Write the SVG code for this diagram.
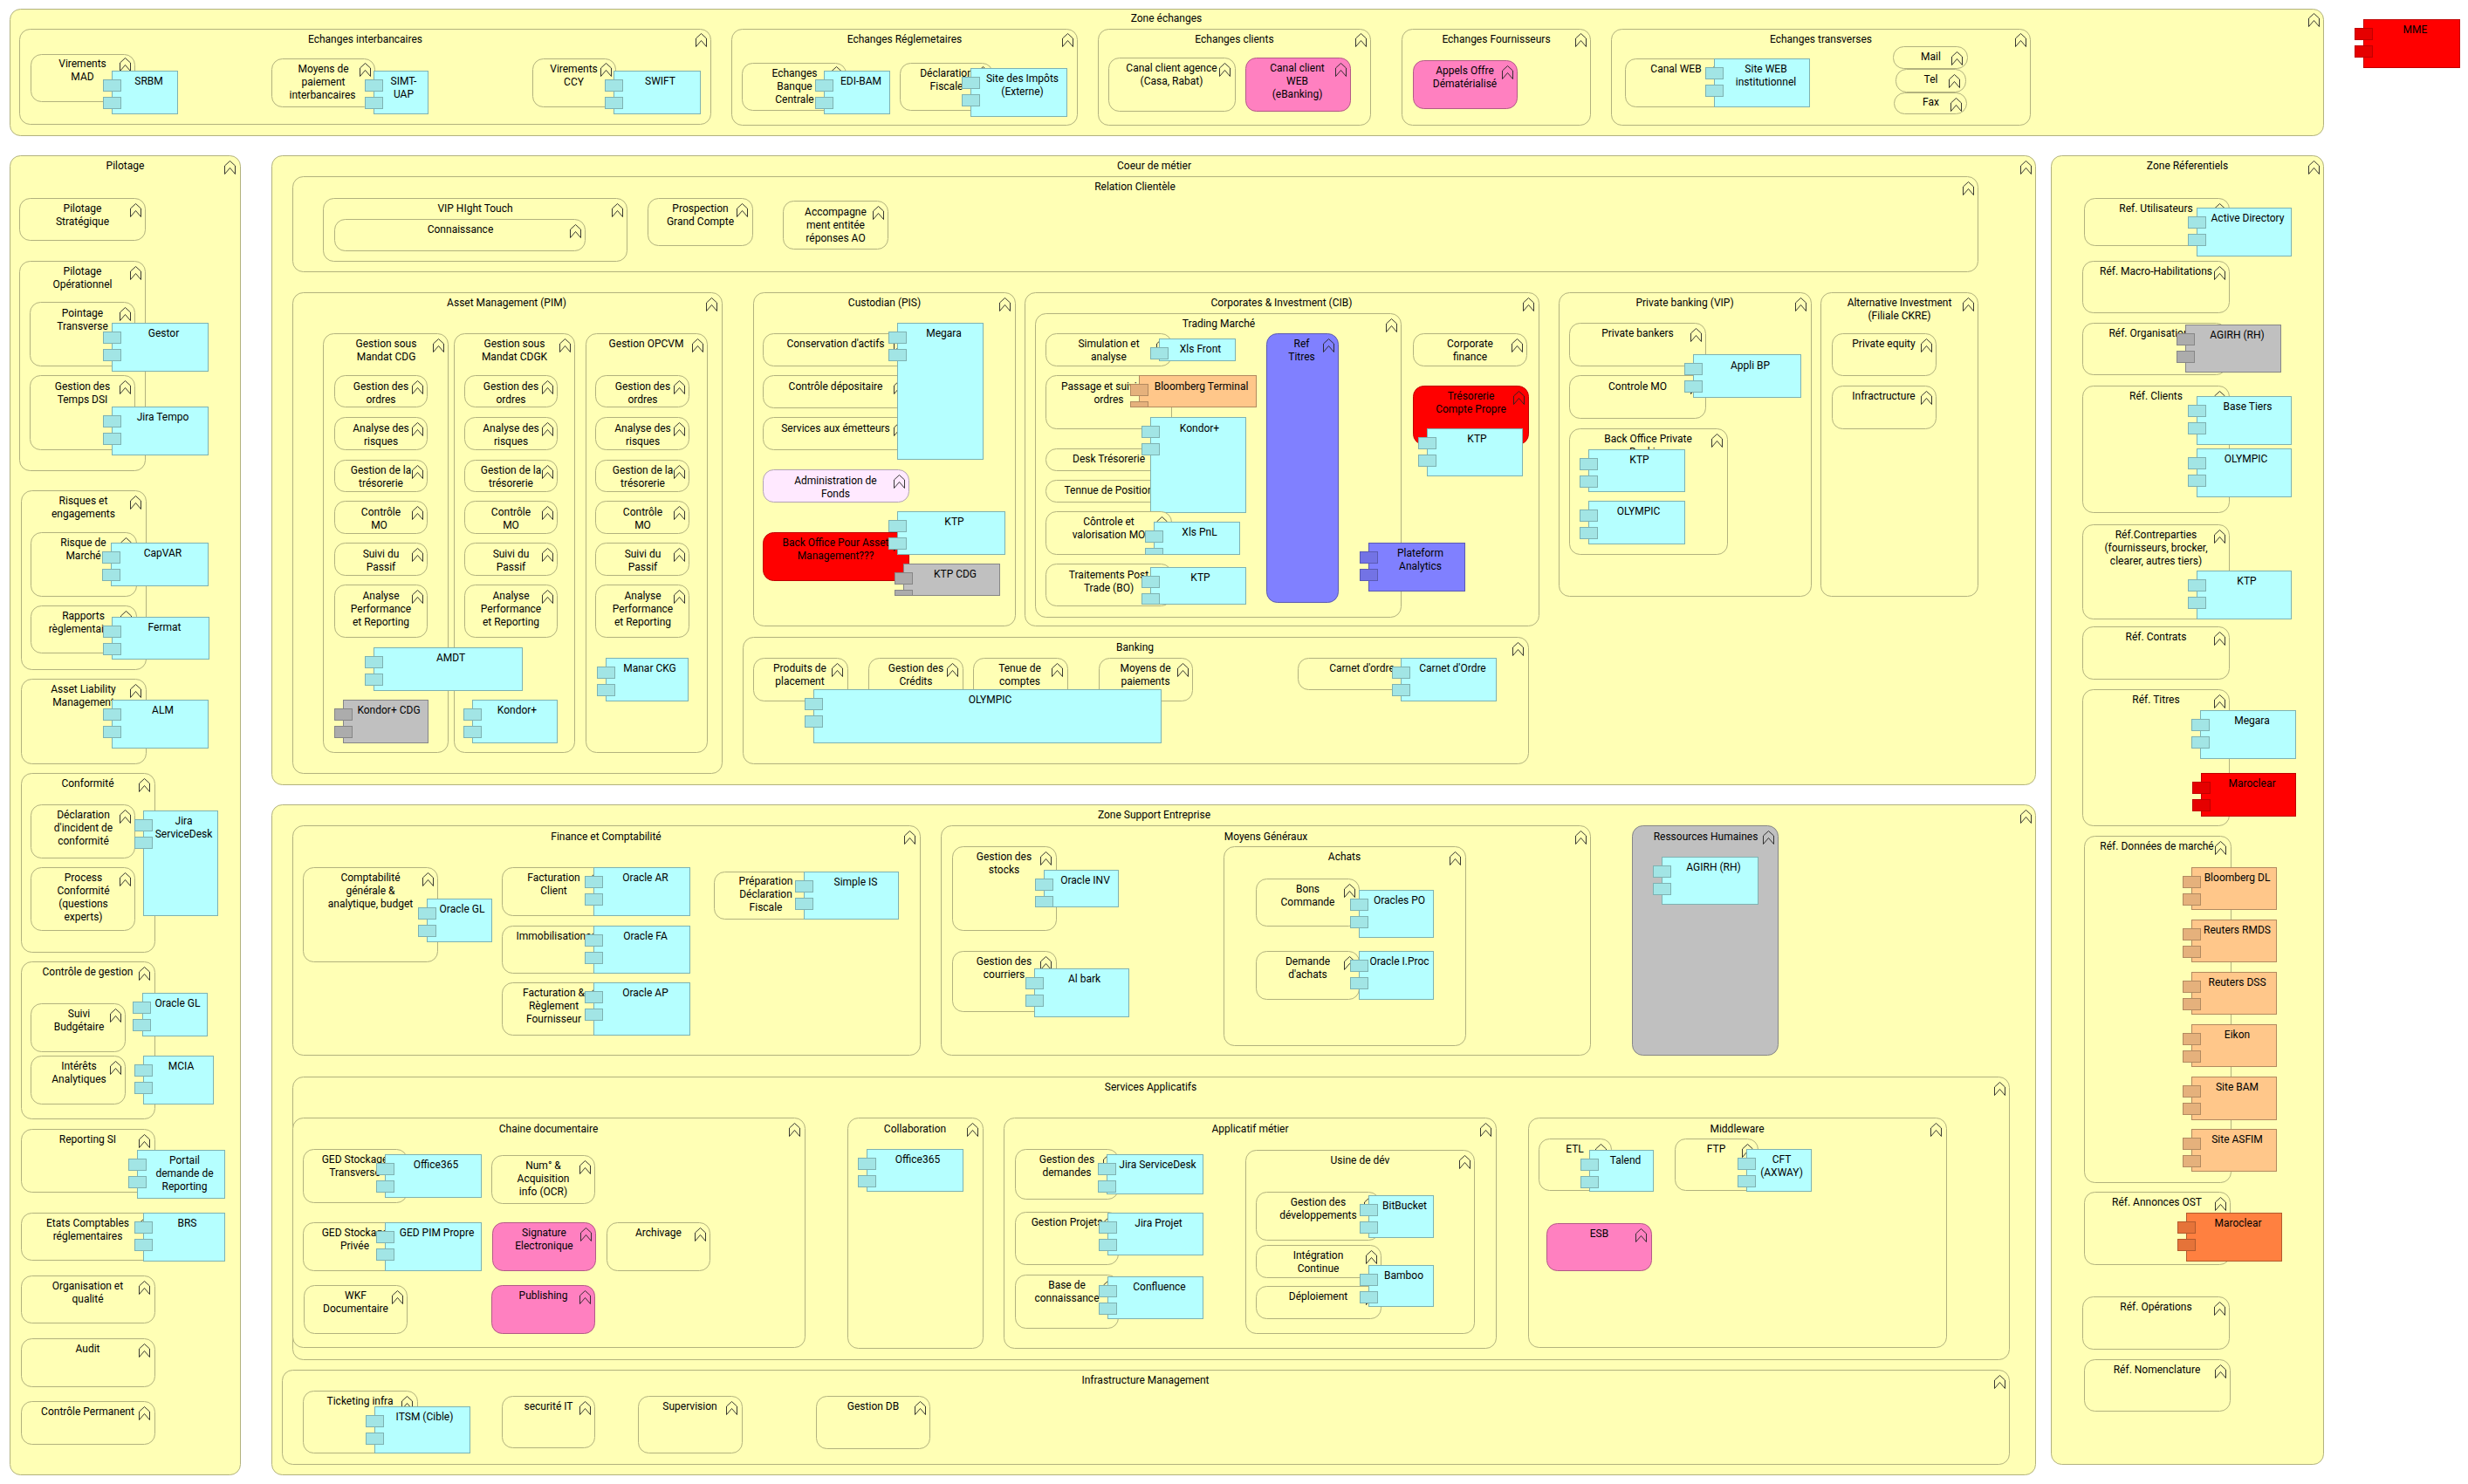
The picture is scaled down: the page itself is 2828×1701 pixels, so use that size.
<svg xmlns="http://www.w3.org/2000/svg" width="2828" height="1701" viewBox="0 0 2828 1701">
<style>
text{font-family:"Roboto","Liberation Sans",sans-serif;font-size:12px;text-anchor:middle;fill:#000;transform:translateY(-1px)}
.b{fill:#ffffb5;stroke:#b2b27e;stroke-width:1;rx:12px;ry:12px}
.pk{fill:#ff80c0;stroke:#b25a86}
.rd{fill:#f00;stroke:#c00000}
.gy{fill:#c0c0c0;stroke:#868686}
.pu{fill:#8080ff;stroke:#5a5ab2}
.li{fill:#ffe9ff;stroke:#b2a3b2}
.k>*{fill:#a2e5e5;stroke:#7eb2b2}.k>rect:first-child{fill:#b5ffff}
.o>*{fill:#e5b17c;stroke:#b28a60}.o>rect:first-child{fill:#ffc78a}
.g>*{fill:#acacac;stroke:#868686}.g>rect:first-child{fill:#c0c0c0}
.r>*{fill:#e50000;stroke:#c00000}.r>rect:first-child{fill:#f00}
.p>*{fill:#7373e5;stroke:#5a5ab2}.p>rect:first-child{fill:#8080ff}
.d>*{fill:#e57339;stroke:#b25a2d}.d>rect:first-child{fill:#ff8040}
.c>text{fill:#000;stroke:none}
.ic{fill:none;stroke:#222;stroke-width:.9}
</style>
<defs>
<path id="i" class="ic" d="M0 5.500L6 0L12 5.500V15L6 8L0 15Z"/>
<rect id="t" width="20" height="13"/>
</defs>
<g transform="translate(.5 .5)">
<g id="connectors"/>
<g id="zone-echanges"><rect class="b" x="11" y="10" width="2651" height="145"/><use href="#i" x="2645" y="15"/><text x="1336" y="25">Zone échanges</text></g>
<g id="echanges-interbancaires"><rect class="b" x="22" y="33" width="792" height="109"/><use href="#i" x="797" y="38"/><text x="418" y="49">Echanges interbancaires</text></g>
<g id="virements-mad"><rect class="b" x="35" y="62" width="119" height="54"/><use href="#i" x="137" y="66"/><text x="94" y="77">Virements<tspan x="94" dy="15">MAD</tspan></text></g>
<g id="srbm" class="c k"><rect x="128" y="81" width="75" height="49"/><use href="#t" x="118" y="91"/><use href="#t" x="118" y="111"/><text x="170" y="97">SRBM</text></g>
<g id="moyens-paiement"><rect class="b" x="311" y="67" width="118" height="55"/><use href="#i" x="412" y="72"/><text x="370" y="83">Moyens de<tspan x="370" dy="15">paiement</tspan><tspan x="369" dy="15">interbancaires</tspan></text></g>
<g id="simt-uap" class="c k"><rect x="428" y="81" width="62" height="49"/><use href="#t" x="418" y="91"/><use href="#t" x="418" y="111"/><text x="462" y="97">SIMT-<tspan x="462" dy="15">UAP</tspan></text></g>
<g id="virements-ccy"><rect class="b" x="610" y="67" width="95" height="55"/><use href="#i" x="688" y="72"/><text x="657" y="83">Virements<tspan x="657" dy="15">CCY</tspan></text></g>
<g id="swift" class="c k"><rect x="703" y="81" width="99" height="49"/><use href="#t" x="693" y="91"/><use href="#t" x="693" y="111"/><text x="756" y="97">SWIFT</text></g>
<g id="echanges-reglementaires"><rect class="b" x="838" y="33" width="396" height="110"/><use href="#i" x="1217" y="38"/><text x="1036" y="49">Echanges Réglemetaires</text></g>
<g id="echanges-banque"><rect class="b" x="850" y="72" width="119" height="54"/><use href="#i" x="952" y="76"/><text x="910" y="88">Echanges<tspan x="910" dy="15">Banque</tspan><tspan x="910" dy="15">Centrale</tspan></text></g>
<g id="edi-bam" class="c k"><rect x="944" y="81" width="75" height="49"/><use href="#t" x="934" y="91"/><use href="#t" x="934" y="111"/><text x="986" y="97">EDI-BAM</text></g>
<g id="declaration-fiscale"><rect class="b" x="1031" y="72" width="106" height="54"/><use href="#i" x="1120" y="76"/><text x="1084" y="88">Déclaration<tspan x="1084" dy="15">Fiscale</tspan></text></g>
<g id="site-impots" class="c k"><rect x="1112" y="78" width="110" height="55"/><use href="#t" x="1102" y="88"/><use href="#t" x="1102" y="108"/><text x="1171" y="94">Site des Impôts<tspan x="1171" dy="15">(Externe)</tspan></text></g>
<g id="echanges-clients"><rect class="b" x="1258" y="33" width="312" height="110"/><use href="#i" x="1553" y="38"/><text x="1414" y="49">Echanges clients</text></g>
<g id="canal-agence"><rect class="b" x="1270" y="66" width="145" height="61"/><use href="#i" x="1397" y="72"/><text x="1342" y="82">Canal client agence<tspan x="1342" dy="15">(Casa, Rabat)</tspan></text></g>
<g id="canal-web-client"><rect class="b pk" x="1427" y="66" width="120" height="61"/><use href="#i" x="1530" y="72"/><text x="1486" y="82">Canal client<tspan x="1486" dy="15">WEB</tspan><tspan x="1486" dy="15">(eBanking)</tspan></text></g>
<g id="echanges-fournisseurs"><rect class="b" x="1606" y="33" width="216" height="110"/><use href="#i" x="1805" y="38"/><text x="1714" y="49">Echanges Fournisseurs</text></g>
<g id="appels-offre"><rect class="b pk" x="1619" y="69" width="119" height="55"/><use href="#i" x="1721" y="75"/><text x="1678" y="85">Appels Offre<tspan x="1678" dy="15">Dématérialisé</tspan></text></g>
<g id="echanges-transverses"><rect class="b" x="1846" y="33" width="480" height="110"/><use href="#i" x="2309" y="38"/><text x="2086" y="49">Echanges transverses</text></g>
<g id="canal-web"><rect class="b" x="1862" y="67" width="117" height="55"/><use href="#i" x="1962" y="72"/><text x="1920" y="83">Canal WEB</text></g>
<g id="site-web" class="c k"><rect x="1964" y="67" width="109" height="55"/><use href="#t" x="1954" y="77"/><use href="#t" x="1954" y="97"/><text x="2023" y="83">Site WEB<tspan x="2023" dy="15">institutionnel</tspan></text></g>
<g id="mail"><rect class="b" x="2169" y="53" width="85" height="25"/><use href="#i" x="2236" y="59"/><text x="2212" y="69">Mail</text></g>
<g id="tel"><rect class="b" x="2172" y="79" width="80" height="26"/><use href="#i" x="2233" y="85"/><text x="2212" y="95">Tel</text></g>
<g id="fax"><rect class="b" x="2170" y="106" width="83" height="24"/><use href="#i" x="2235" y="112"/><text x="2212" y="121">Fax</text></g>
<g id="mme" class="c r"><rect x="2708" y="22" width="110" height="55"/><use href="#t" x="2698" y="32"/><use href="#t" x="2698" y="52"/><text x="2767" y="38">MME</text></g>

<g id="pilotage"><rect class="b" x="11" y="178" width="264" height="1512"/><use href="#i" x="257" y="184"/><text x="143" y="194">Pilotage</text></g>
<g id="pilotage-strategique"><rect class="b" x="22" y="227" width="144" height="48"/><use href="#i" x="149" y="233"/><text x="94" y="243">Pilotage<tspan x="94" dy="15">Stratégique</tspan></text></g>
<g id="pilotage-operationnel"><rect class="b" x="22" y="299" width="144" height="240"/><use href="#i" x="149" y="305"/><text x="94" y="315">Pilotage<tspan x="94" dy="15">Opérationnel</tspan></text></g>
<g id="pointage-transverse"><rect class="b" x="34" y="346" width="120" height="73"/><use href="#i" x="137" y="352"/><text x="94" y="363">Pointage<tspan x="94" dy="15">Transverse</tspan></text></g>
<g id="gestor" class="c k"><rect x="128" y="370" width="110" height="55"/><use href="#t" x="118" y="380"/><use href="#t" x="118" y="400"/><text x="187" y="386">Gestor</text></g>
<g id="gestion-temps"><rect class="b" x="34" y="430" width="120" height="85"/><use href="#i" x="137" y="436"/><text x="94" y="447">Gestion des<tspan x="94" dy="15">Temps DSI</tspan></text></g>
<g id="jira-tempo" class="c k"><rect x="128" y="466" width="110" height="55"/><use href="#t" x="118" y="476"/><use href="#t" x="118" y="496"/><text x="186" y="482">Jira Tempo</text></g>
<g id="risques"><rect class="b" x="24" y="562" width="143" height="205"/><use href="#i" x="149" y="568"/><text x="95" y="578">Risques et<tspan x="95" dy="15">engagements</tspan></text></g>
<g id="risque-marche"><rect class="b" x="35" y="610" width="121" height="73"/><use href="#i" x="138" y="616"/><text x="95" y="626">Risque de<tspan x="95" dy="15">Marché</tspan></text></g>
<g id="capvar" class="c k"><rect x="127" y="622" width="111" height="49"/><use href="#t" x="117" y="632"/><use href="#t" x="117" y="652"/><text x="186" y="638">CapVAR</text></g>
<g id="rapports"><rect class="b" x="35" y="694" width="121" height="54"/><use href="#i" x="138" y="700"/><text x="95" y="710">Rapports<tspan x="95" dy="15">règlementaires</tspan></text></g>
<g id="fermat" class="c k"><rect x="128" y="707" width="111" height="48"/><use href="#t" x="118" y="717"/><use href="#t" x="118" y="737"/><text x="188" y="723">Fermat</text></g>
<g id="asset-liability"><rect class="b" x="24" y="778" width="143" height="97"/><use href="#i" x="149" y="784"/><text x="95" y="794">Asset Liability<tspan x="95" dy="15">Management</tspan></text></g>
<g id="alm" class="c k"><rect x="128" y="802" width="110" height="55"/><use href="#t" x="118" y="812"/><use href="#t" x="118" y="832"/><text x="186" y="818">ALM</text></g>
<g id="conformite"><rect class="b" x="24" y="886" width="153" height="205"/><use href="#i" x="159" y="892"/><text x="100" y="902">Conformité</text></g>
<g id="declaration-incident"><rect class="b" x="35" y="922" width="119" height="61"/><use href="#i" x="137" y="928"/><text x="95" y="938">Déclaration<tspan x="95" dy="15">d'incident de</tspan><tspan x="95" dy="15">conformité</tspan></text></g>
<g id="jira-servicedesk" class="c k"><rect x="164" y="929" width="85" height="120"/><use href="#t" x="154" y="939"/><use href="#t" x="154" y="959"/><text x="210" y="945">Jira<tspan x="210" dy="15">ServiceDesk</tspan></text></g>
<g id="process-conformite"><rect class="b" x="35" y="994" width="119" height="72"/><use href="#i" x="137" y="1000"/><text x="95" y="1010">Process<tspan x="95" dy="15">Conformité</tspan><tspan x="95" dy="15">(questions</tspan><tspan x="95" dy="15">experts)</tspan></text></g>
<g id="controle-gestion"><rect class="b" x="24" y="1102" width="153" height="180"/><use href="#i" x="159" y="1108"/><text x="100" y="1118">Contrôle de gestion</text></g>
<g id="suivi-budgetaire"><rect class="b" x="35" y="1150" width="108" height="55"/><use href="#i" x="126" y="1156"/><text x="90" y="1166">Suivi<tspan x="90" dy="15">Budgétaire</tspan></text></g>
<g id="oracle-gl-1" class="c k"><rect x="163" y="1138" width="74" height="49"/><use href="#t" x="152" y="1148"/><use href="#t" x="152" y="1168"/><text x="203" y="1154">Oracle GL</text></g>
<g id="interets"><rect class="b" x="35" y="1210" width="108" height="55"/><use href="#i" x="126" y="1216"/><text x="90" y="1226">Intérêts<tspan x="90" dy="15">Analytiques</tspan></text></g>
<g id="mcia" class="c k"><rect x="164" y="1210" width="80" height="55"/><use href="#t" x="154" y="1220"/><use href="#t" x="154" y="1240"/><text x="207" y="1226">MCIA</text></g>
<g id="reporting-si"><rect class="b" x="24" y="1294" width="153" height="72"/><use href="#i" x="159" y="1300"/><text x="100" y="1310">Reporting SI</text></g>
<g id="portail" class="c k"><rect x="157" y="1318" width="100" height="55"/><use href="#t" x="147" y="1328"/><use href="#t" x="147" y="1348"/><text x="211" y="1334">Portail<tspan x="211" dy="15">demande de</tspan><tspan x="211" dy="15">Reporting</tspan></text></g>
<g id="etats-comptables"><rect class="b" x="24" y="1390" width="153" height="54"/><use href="#i" x="159" y="1396"/><text x="100" y="1406">Etats Comptables<tspan x="100" dy="15">réglementaires</tspan></text></g>
<g id="brs" class="c k"><rect x="164" y="1390" width="93" height="55"/><use href="#t" x="154" y="1400"/><use href="#t" x="154" y="1420"/><text x="214" y="1406">BRS</text></g>
<g id="organisation"><rect class="b" x="24" y="1462" width="153" height="54"/><use href="#i" x="159" y="1468"/><text x="100" y="1478">Organisation et<tspan x="100" dy="15">qualité</tspan></text></g>
<g id="audit"><rect class="b" x="24" y="1534" width="153" height="55"/><use href="#i" x="159" y="1540"/><text x="100" y="1550">Audit</text></g>
<g id="controle-permanent"><rect class="b" x="24" y="1606" width="153" height="49"/><use href="#i" x="159" y="1612"/><text x="100" y="1622">Contrôle Permanent</text></g>

<g id="coeur-metier"><rect class="b" x="311" y="178" width="2021" height="721"/><use href="#i" x="2315" y="184"/><text x="1322" y="194">Coeur de métier</text></g>
<g id="relation-clientele"><rect class="b" x="335" y="202" width="1931" height="109"/><use href="#i" x="2249" y="208"/><text x="1300" y="218">Relation Clientèle</text></g>
<g id="vip"><rect class="b" x="370" y="227" width="348" height="72"/><use href="#i" x="701" y="233"/><text x="544" y="243">VIP HIght Touch</text></g>
<g id="connaissance"><rect class="b" x="383" y="251" width="287" height="36"/><use href="#i" x="653" y="257"/><text x="527" y="267">Connaissance</text></g>
<g id="prospection"><rect class="b" x="742" y="227" width="120" height="54"/><use href="#i" x="844" y="233"/><text x="802" y="243">Prospection<tspan x="802" dy="15">Grand Compte</tspan></text></g>
<g id="accompagnement"><rect class="b" x="897" y="230" width="120" height="55"/><use href="#i" x="1000" y="236"/><text x="957" y="247">Accompagne<tspan x="957" dy="15">ment entitée</tspan><tspan x="957" dy="15">réponses AO</tspan></text></g>

<g id="asset-management"><rect class="b" x="335" y="335" width="492" height="551"/><use href="#i" x="809" y="341"/><text x="580" y="351">Asset Management (PIM)</text></g>
<g id="mandat-cdg"><rect class="b" x="370" y="382" width="143" height="480"/><use href="#i" x="496" y="388"/><text x="442" y="398">Gestion sous<tspan x="442" dy="15">Mandat CDG</tspan></text></g>
<g id="mandat-cdgk"><rect class="b" x="520" y="382" width="138" height="480"/><use href="#i" x="641" y="388"/><text x="589" y="398">Gestion sous<tspan x="589" dy="15">Mandat CDGK</tspan></text></g>
<g id="opcvm"><rect class="b" x="671" y="382" width="139" height="480"/><use href="#i" x="793" y="388"/><text x="740" y="398">Gestion OPCVM</text></g>

<g id="a1-ordres"><rect class="b" x="383" y="430" width="106" height="36"/><use href="#i" x="472" y="436"/><text x="436" y="447">Gestion des<tspan x="436" dy="15">ordres</tspan></text></g>
<g id="a1-risques"><rect class="b" x="383" y="478" width="106" height="37"/><use href="#i" x="472" y="484"/><text x="436" y="495">Analyse des<tspan x="436" dy="15">risques</tspan></text></g>
<g id="a1-tresorerie"><rect class="b" x="383" y="527" width="106" height="36"/><use href="#i" x="472" y="533"/><text x="436" y="543">Gestion de la<tspan x="436" dy="15">trésorerie</tspan></text></g>
<g id="a1-controle"><rect class="b" x="383" y="574" width="106" height="37"/><use href="#i" x="472" y="580"/><text x="436" y="591">Contrôle<tspan x="434" dy="15">MO</tspan></text></g>
<g id="a1-suivi"><rect class="b" x="383" y="622" width="106" height="37"/><use href="#i" x="472" y="628"/><text x="436" y="639">Suivi du<tspan x="436" dy="15">Passif</tspan></text></g>
<g id="a1-analyse"><rect class="b" x="383" y="670" width="106" height="60"/><use href="#i" x="472" y="676"/><text x="436" y="687">Analyse<tspan x="436" dy="15">Performance</tspan><tspan x="436" dy="15">et Reporting</tspan></text></g>

<g id="a2-ordres"><rect class="b" x="532" y="430" width="106" height="36"/><use href="#i" x="621" y="436"/><text x="585" y="447">Gestion des<tspan x="585" dy="15">ordres</tspan></text></g>
<g id="a2-risques"><rect class="b" x="532" y="478" width="106" height="37"/><use href="#i" x="621" y="484"/><text x="585" y="495">Analyse des<tspan x="585" dy="15">risques</tspan></text></g>
<g id="a2-tresorerie"><rect class="b" x="532" y="527" width="106" height="36"/><use href="#i" x="621" y="533"/><text x="585" y="543">Gestion de la<tspan x="585" dy="15">trésorerie</tspan></text></g>
<g id="a2-controle"><rect class="b" x="532" y="574" width="106" height="37"/><use href="#i" x="621" y="580"/><text x="585" y="591">Contrôle<tspan x="585" dy="15">MO</tspan></text></g>
<g id="a2-suivi"><rect class="b" x="532" y="622" width="106" height="37"/><use href="#i" x="621" y="628"/><text x="585" y="639">Suivi du<tspan x="585" dy="15">Passif</tspan></text></g>
<g id="a2-analyse"><rect class="b" x="532" y="670" width="106" height="60"/><use href="#i" x="621" y="676"/><text x="585" y="687">Analyse<tspan x="585" dy="15">Performance</tspan><tspan x="585" dy="15">et Reporting</tspan></text></g>

<g id="a3-ordres"><rect class="b" x="682" y="430" width="107" height="36"/><use href="#i" x="772" y="436"/><text x="736" y="447">Gestion des<tspan x="736" dy="15">ordres</tspan></text></g>
<g id="a3-risques"><rect class="b" x="682" y="478" width="107" height="37"/><use href="#i" x="772" y="484"/><text x="736" y="495">Analyse des<tspan x="736" dy="15">risques</tspan></text></g>
<g id="a3-tresorerie"><rect class="b" x="682" y="527" width="107" height="36"/><use href="#i" x="772" y="533"/><text x="736" y="543">Gestion de la<tspan x="736" dy="15">trésorerie</tspan></text></g>
<g id="a3-controle"><rect class="b" x="682" y="574" width="107" height="37"/><use href="#i" x="772" y="580"/><text x="736" y="591">Contrôle<tspan x="736" dy="15">MO</tspan></text></g>
<g id="a3-suivi"><rect class="b" x="682" y="622" width="107" height="37"/><use href="#i" x="772" y="628"/><text x="736" y="639">Suivi du<tspan x="736" dy="15">Passif</tspan></text></g>
<g id="a3-analyse"><rect class="b" x="682" y="670" width="107" height="60"/><use href="#i" x="772" y="676"/><text x="736" y="687">Analyse<tspan x="736" dy="15">Performance</tspan><tspan x="736" dy="15">et Reporting</tspan></text></g>

<g id="amdt" class="c k"><rect x="428" y="742" width="170" height="49"/><use href="#t" x="418" y="752"/><use href="#t" x="418" y="772"/><text x="516" y="758">AMDT</text></g>
<g id="kondor-cdg" class="c g"><rect x="393" y="802" width="97" height="49"/><use href="#t" x="383" y="812"/><use href="#t" x="383" y="832"/><text x="445" y="818">Kondor+ CDG</text></g>
<g id="kondor-1" class="c k"><rect x="541" y="802" width="97" height="49"/><use href="#t" x="531" y="812"/><use href="#t" x="531" y="832"/><text x="592" y="818">Kondor+</text></g>
<g id="manar" class="c k"><rect x="694" y="754" width="94" height="49"/><use href="#t" x="684" y="764"/><use href="#t" x="684" y="784"/><text x="744" y="770">Manar CKG</text></g>

<g id="custodian"><rect class="b" x="863" y="335" width="300" height="382"/><use href="#i" x="1145" y="341"/><text x="1013" y="351">Custodian (PIS)</text></g>
<g id="conservation"><rect class="b" x="874" y="382" width="167" height="37"/><use href="#i" x="1024" y="388"/><text x="957" y="398">Conservation d'actifs</text></g>
<g id="controle-depositaire"><rect class="b" x="874" y="430" width="167" height="37"/><use href="#i" x="1024" y="436"/><text x="957" y="447">Contrôle dépositaire</text></g>
<g id="services-emetteurs"><rect class="b" x="874" y="478" width="167" height="37"/><use href="#i" x="1024" y="484"/><text x="957" y="495">Services aux émetteurs</text></g>
<g id="megara-1" class="c k"><rect x="1028" y="370" width="98" height="156"/><use href="#t" x="1018" y="380"/><use href="#t" x="1018" y="400"/><text x="1081" y="386">Megara</text></g>
<g id="administration"><rect class="b li" x="874" y="538" width="167" height="37"/><use href="#i" x="1024" y="544"/><text x="957" y="555">Administration de<tspan x="957" dy="15">Fonds</tspan></text></g>
<g id="back-office-am"><rect class="b rd" x="874" y="610" width="167" height="55"/><use href="#i" x="1024" y="616"/><text x="957" y="626">Back Office Pour Asset<tspan x="957" dy="15">Management???</tspan></text></g>
<g id="ktp-1" class="c k"><rect x="1028" y="586" width="123" height="49"/><use href="#t" x="1018" y="596"/><use href="#t" x="1018" y="616"/><text x="1093" y="602">KTP</text></g>
<g id="ktp-cdg" class="c g"><rect x="1035" y="646" width="110" height="36"/><use href="#t" x="1025" y="656"/><rect x="1025" y="676" width="20" height="6"/><text x="1094" y="662">KTP CDG</text></g>

<g id="cib"><rect class="b" x="1174" y="335" width="589" height="382"/><use href="#i" x="1745" y="341"/><text x="1468" y="351">Corporates &amp; Investment (CIB)</text></g>
<g id="trading"><rect class="b" x="1186" y="359" width="419" height="348"/><use href="#i" x="1588" y="365"/><text x="1396" y="375">Trading Marché</text></g>
<g id="simulation"><rect class="b" x="1198" y="382" width="144" height="37"/><use href="#i" x="1325" y="388"/><text x="1270" y="398">Simulation et<tspan x="1270" dy="15">analyse</tspan></text></g>
<g id="xls-front" class="c k"><rect x="1328" y="388" width="87" height="25"/><use href="#t" x="1318" y="398"/><text x="1375" y="404">Xls Front</text></g>
<g id="passage"><rect class="b" x="1198" y="430" width="144" height="61"/><use href="#i" x="1325" y="436"/><text x="1270" y="447">Passage et suivi des<tspan x="1270" dy="15">ordres</tspan></text></g>
<g id="bloomberg-terminal" class="c o"><rect x="1305" y="430" width="134" height="36"/><use href="#t" x="1295" y="440"/><rect x="1295" y="460" width="20" height="6"/><text x="1376" y="447">Bloomberg Terminal</text></g>
<g id="desk"><rect class="b" x="1198" y="514" width="144" height="25"/><use href="#i" x="1325" y="520"/><text x="1270" y="530">Desk Trésorerie</text></g>
<g id="tennue"><rect class="b" x="1198" y="550" width="144" height="25"/><use href="#i" x="1325" y="556"/><text x="1270" y="566">Tennue de Position</text></g>
<g id="kondor-2" class="c k"><rect x="1318" y="478" width="109" height="109"/><use href="#t" x="1308" y="488"/><use href="#t" x="1308" y="508"/><text x="1374" y="495">Kondor+</text></g>
<g id="controle-valorisation"><rect class="b" x="1198" y="586" width="144" height="49"/><use href="#i" x="1325" y="592"/><text x="1270" y="602">Côntrole et<tspan x="1270" dy="15">valorisation MO</tspan></text></g>
<g id="xls-pnl" class="c k"><rect x="1322" y="598" width="98" height="37"/><use href="#t" x="1312" y="608"/><rect x="1312" y="628" width="20" height="7"/><text x="1374" y="614">Xls PnL</text></g>
<g id="traitements"><rect class="b" x="1198" y="646" width="144" height="48"/><use href="#i" x="1325" y="652"/><text x="1270" y="663">Traitements Post<tspan x="1270" dy="15">Trade (BO)</tspan></text></g>
<g id="ktp-2" class="c k"><rect x="1318" y="650" width="109" height="42"/><use href="#t" x="1308" y="660"/><rect x="1308" y="680" width="20" height="12"/><text x="1375" y="666">KTP</text></g>
<g id="ref-titres"><rect class="b pu" x="1451" y="382" width="82" height="308"/><use href="#i" x="1516" y="388"/><text x="1491" y="398">Ref<tspan x="1491" dy="15">Titres</tspan></text></g>
<g id="plateform" class="c p"><rect x="1568" y="622" width="110" height="55"/><use href="#t" x="1558" y="632"/><use href="#t" x="1558" y="652"/><text x="1627" y="638">Plateform<tspan x="1627" dy="15">Analytics</tspan></text></g>
<g id="corporate-finance"><rect class="b" x="1619" y="382" width="130" height="37"/><use href="#i" x="1732" y="388"/><text x="1684" y="398">Corporate<tspan x="1684" dy="15">finance</tspan></text></g>
<g id="tresorerie-propre"><rect class="b rd" x="1619" y="442" width="132" height="67"/><use href="#i" x="1734" y="448"/><text x="1685" y="458">Trésorerie<tspan x="1685" dy="15">Compte Propre</tspan></text></g>
<g id="ktp-3" class="c k"><rect x="1635" y="491" width="109" height="54"/><use href="#t" x="1625" y="501"/><use href="#t" x="1625" y="521"/><text x="1692" y="507">KTP</text></g>

<g id="private-banking"><rect class="b" x="1786" y="335" width="289" height="348"/><use href="#i" x="2057" y="341"/><text x="1930" y="351">Private banking (VIP)</text></g>
<g id="private-bankers"><rect class="b" x="1798" y="370" width="156" height="49"/><use href="#i" x="1937" y="376"/><text x="1876" y="386">Private bankers</text></g>
<g id="controle-mo-vip"><rect class="b" x="1798" y="430" width="156" height="49"/><use href="#i" x="1937" y="436"/><text x="1876" y="447">Controle MO</text></g>
<g id="appli-bp" class="c k"><rect x="1940" y="406" width="123" height="49"/><use href="#t" x="1930" y="416"/><use href="#t" x="1930" y="436"/><text x="2005" y="423">Appli BP</text></g>
<g id="back-office-private"><rect class="b" x="1798" y="491" width="181" height="144"/><use href="#i" x="1961" y="497"/><text x="1888" y="507">Back Office Private<tspan x="1888" dy="15">Banking</tspan></text></g>
<g id="ktp-4" class="c k"><rect x="1820" y="515" width="110" height="48"/><use href="#t" x="1810" y="525"/><use href="#t" x="1810" y="545"/><text x="1878" y="531">KTP</text></g>
<g id="olympic-1" class="c k"><rect x="1820" y="574" width="110" height="49"/><use href="#t" x="1810" y="584"/><use href="#t" x="1810" y="604"/><text x="1877" y="590">OLYMPIC</text></g>

<g id="alternative"><rect class="b" x="2086" y="335" width="180" height="348"/><use href="#i" x="2249" y="341"/><text x="2176" y="351">Alternative Investment<tspan x="2176" dy="15">(Filiale CKRE)</tspan></text></g>
<g id="private-equity"><rect class="b" x="2099" y="382" width="119" height="48"/><use href="#i" x="2201" y="388"/><text x="2158" y="398">Private equity</text></g>
<g id="infractructure"><rect class="b" x="2099" y="442" width="119" height="49"/><use href="#i" x="2201" y="448"/><text x="2158" y="458">Infractructure</text></g>

<g id="banking"><rect class="b" x="851" y="730" width="900" height="145"/><use href="#i" x="1733" y="736"/><text x="1300" y="746">Banking</text></g>
<g id="produits"><rect class="b" x="863" y="754" width="108" height="49"/><use href="#i" x="953" y="760"/><text x="916" y="770">Produits de<tspan x="916" dy="15">placement</tspan></text></g>
<g id="gestion-credits"><rect class="b" x="995" y="754" width="108" height="49"/><use href="#i" x="1085" y="760"/><text x="1049" y="770">Gestion des<tspan x="1049" dy="15">Crédits</tspan></text></g>
<g id="tenue-comptes"><rect class="b" x="1115" y="754" width="108" height="49"/><use href="#i" x="1205" y="760"/><text x="1168" y="770">Tenue de<tspan x="1168" dy="15">comptes</tspan></text></g>
<g id="moyens-paiements"><rect class="b" x="1259" y="754" width="107" height="49"/><use href="#i" x="1349" y="760"/><text x="1312" y="770">Moyens de<tspan x="1312" dy="15">paiements</tspan></text></g>
<g id="olympic-2" class="c k"><rect x="932" y="790" width="398" height="61"/><use href="#t" x="922" y="800"/><use href="#t" x="922" y="820"/><text x="1134" y="806">OLYMPIC</text></g>
<g id="carnet-ordre"><rect class="b" x="1487" y="754" width="147" height="36"/><use href="#i" x="1617" y="760"/><text x="1560" y="770">Carnet d'ordre</text></g>
<g id="carnet-ordre-app" class="c k"><rect x="1605" y="754" width="109" height="49"/><use href="#t" x="1595" y="764"/><use href="#t" x="1595" y="784"/><text x="1664" y="770">Carnet d'Ordre</text></g>

<g id="zone-support"><rect class="b" x="311" y="922" width="2021" height="768"/><use href="#i" x="2315" y="928"/><text x="1322" y="938">Zone Support Entreprise</text></g>
<g id="finance"><rect class="b" x="335" y="946" width="719" height="263"/><use href="#i" x="1036" y="952"/><text x="694" y="963">Finance et Comptabilité</text></g>
<g id="comptabilite"><rect class="b" x="347" y="994" width="154" height="108"/><use href="#i" x="484" y="1000"/><text x="424" y="1010">Comptabilité<tspan x="424" dy="15">générale &amp;</tspan><tspan x="424" dy="15">analytique, budget</tspan></text></g>
<g id="oracle-gl-2" class="c k"><rect x="489" y="1030" width="74" height="49"/><use href="#t" x="479" y="1040"/><use href="#t" x="479" y="1060"/><text x="529" y="1046">Oracle GL</text></g>
<g id="facturation-client"><rect class="b" x="575" y="994" width="119" height="55"/><use href="#i" x="676" y="1000"/><text x="634" y="1010">Facturation<tspan x="634" dy="15">Client</tspan></text></g>
<g id="oracle-ar" class="c k"><rect x="680" y="994" width="110" height="55"/><use href="#t" x="670" y="1004"/><use href="#t" x="670" y="1024"/><text x="739" y="1010">Oracle AR</text></g>
<g id="immobilisations"><rect class="b" x="575" y="1061" width="119" height="54"/><use href="#i" x="676" y="1067"/><text x="634" y="1077">Immobilisations</text></g>
<g id="oracle-fa" class="c k"><rect x="680" y="1061" width="110" height="54"/><use href="#t" x="670" y="1071"/><use href="#t" x="670" y="1091"/><text x="739" y="1077">Oracle FA</text></g>
<g id="facturation-reglement"><rect class="b" x="575" y="1126" width="119" height="60"/><use href="#i" x="676" y="1132"/><text x="634" y="1142">Facturation &amp;<tspan x="634" dy="15">Règlement</tspan><tspan x="634" dy="15">Fournisseur</tspan></text></g>
<g id="oracle-ap" class="c k"><rect x="680" y="1126" width="110" height="60"/><use href="#t" x="670" y="1136"/><use href="#t" x="670" y="1156"/><text x="739" y="1142">Oracle AP</text></g>
<g id="preparation"><rect class="b" x="818" y="999" width="118" height="54"/><use href="#i" x="919" y="1005"/><text x="877" y="1014">Préparation<tspan x="877" dy="15">Déclaration</tspan><tspan x="877" dy="15">Fiscale</tspan></text></g>
<g id="simple-is" class="c k"><rect x="921" y="999" width="108" height="54"/><use href="#t" x="911" y="1009"/><use href="#t" x="911" y="1029"/><text x="980" y="1015">Simple IS</text></g>

<g id="moyens-generaux"><rect class="b" x="1078" y="946" width="744" height="263"/><use href="#i" x="1805" y="952"/><text x="1450" y="963">Moyens Généraux</text></g>
<g id="gestion-stocks"><rect class="b" x="1091" y="970" width="119" height="96"/><use href="#i" x="1192" y="976"/><text x="1150" y="986">Gestion des<tspan x="1150" dy="15">stocks</tspan></text></g>
<g id="oracle-inv" class="c k"><rect x="1196" y="997" width="85" height="42"/><use href="#t" x="1186" y="1007"/><rect x="1186" y="1027" width="20" height="12"/><text x="1243" y="1013">Oracle INV</text></g>
<g id="gestion-courriers"><rect class="b" x="1091" y="1090" width="119" height="69"/><use href="#i" x="1192" y="1096"/><text x="1150" y="1106">Gestion des<tspan x="1150" dy="15">courriers</tspan></text></g>
<g id="al-bark" class="c k"><rect x="1185" y="1110" width="108" height="55"/><use href="#t" x="1175" y="1120"/><use href="#t" x="1175" y="1140"/><text x="1242" y="1126">Al bark</text></g>
<g id="achats"><rect class="b" x="1402" y="970" width="277" height="228"/><use href="#i" x="1661" y="976"/><text x="1540" y="986">Achats</text></g>
<g id="bons-commande"><rect class="b" x="1439" y="1007" width="118" height="54"/><use href="#i" x="1540" y="1013"/><text x="1498" y="1023">Bons<tspan x="1498" dy="15">Commande</tspan></text></g>
<g id="oracles-po" class="c k"><rect x="1557" y="1020" width="85" height="54"/><use href="#t" x="1547" y="1030"/><use href="#t" x="1547" y="1050"/><text x="1603" y="1036">Oracles PO</text></g>
<g id="demande-achats"><rect class="b" x="1439" y="1090" width="118" height="55"/><use href="#i" x="1540" y="1096"/><text x="1498" y="1106">Demande<tspan x="1498" dy="15">d'achats</tspan></text></g>
<g id="oracle-iproc" class="c k"><rect x="1557" y="1090" width="85" height="55"/><use href="#t" x="1547" y="1100"/><use href="#t" x="1547" y="1120"/><text x="1603" y="1106">Oracle I.Proc</text></g>
<g id="ressources-humaines"><rect class="b gy" x="1870" y="946" width="167" height="263"/><use href="#i" x="2020" y="952"/><text x="1954" y="963">Ressources Humaines</text></g>
<g id="agirh-1" class="c k"><rect x="1904" y="982" width="110" height="54"/><use href="#t" x="1894" y="992"/><use href="#t" x="1894" y="1012"/><text x="1963" y="998">AGIRH (RH)</text></g>

<g id="services-applicatifs"><rect class="b" x="335" y="1234" width="1967" height="324"/><use href="#i" x="2285" y="1240"/><text x="1318" y="1250">Services Applicatifs</text></g>
<g id="chaine-documentaire"><rect class="b" x="335" y="1281" width="587" height="263"/><use href="#i" x="904" y="1287"/><text x="628" y="1298">Chaine documentaire</text></g>
<g id="ged-transverse"><rect class="b" x="347" y="1317" width="119" height="61"/><use href="#i" x="449" y="1323"/><text x="406" y="1333">GED Stockage<tspan x="406" dy="15">Transverse</tspan></text></g>
<g id="office365-1" class="c k"><rect x="441" y="1323" width="110" height="49"/><use href="#t" x="431" y="1333"/><use href="#t" x="431" y="1353"/><text x="499" y="1339">Office365</text></g>
<g id="num"><rect class="b" x="563" y="1324" width="118" height="55"/><use href="#i" x="664" y="1330"/><text x="622" y="1340">Num° &amp;<tspan x="622" dy="15">Acquisition</tspan><tspan x="622" dy="15">info (OCR)</tspan></text></g>
<g id="ged-privee"><rect class="b" x="347" y="1401" width="119" height="55"/><use href="#i" x="449" y="1407"/><text x="406" y="1417">GED Stockage<tspan x="406" dy="15">Privée</tspan></text></g>
<g id="ged-pim" class="c k"><rect x="441" y="1401" width="110" height="55"/><use href="#t" x="431" y="1411"/><use href="#t" x="431" y="1431"/><text x="500" y="1417">GED PIM Propre</text></g>
<g id="signature"><rect class="b pk" x="564" y="1401" width="118" height="55"/><use href="#i" x="665" y="1407"/><text x="623" y="1417">Signature<tspan x="623" dy="15">Electronique</tspan></text></g>
<g id="archivage"><rect class="b" x="695" y="1401" width="118" height="55"/><use href="#i" x="796" y="1407"/><text x="754" y="1417">Archivage</text></g>
<g id="wkf"><rect class="b" x="348" y="1473" width="118" height="55"/><use href="#i" x="449" y="1479"/><text x="407" y="1489">WKF<tspan x="407" dy="15">Documentaire</tspan></text></g>
<g id="publishing"><rect class="b pk" x="563" y="1473" width="118" height="55"/><use href="#i" x="664" y="1479"/><text x="622" y="1489">Publishing</text></g>

<g id="collaboration"><rect class="b" x="971" y="1281" width="155" height="264"/><use href="#i" x="1108" y="1287"/><text x="1048" y="1298">Collaboration</text></g>
<g id="office365-2" class="c k"><rect x="993" y="1317" width="110" height="48"/><use href="#t" x="983" y="1327"/><use href="#t" x="983" y="1347"/><text x="1051" y="1333">Office365</text></g>

<g id="applicatif-metier"><rect class="b" x="1150" y="1281" width="564" height="264"/><use href="#i" x="1696" y="1287"/><text x="1432" y="1298">Applicatif métier</text></g>
<g id="gestion-demandes"><rect class="b" x="1163" y="1317" width="118" height="57"/><use href="#i" x="1264" y="1323"/><text x="1222" y="1333">Gestion des<tspan x="1222" dy="15">demandes</tspan></text></g>
<g id="jira-sd-2" class="c k"><rect x="1268" y="1323" width="110" height="45"/><use href="#t" x="1258" y="1333"/><use href="#t" x="1258" y="1353"/><text x="1326" y="1339">Jira ServiceDesk</text></g>
<g id="gestion-projets"><rect class="b" x="1163" y="1389" width="118" height="60"/><use href="#i" x="1264" y="1395"/><text x="1222" y="1405">Gestion Projets</text></g>
<g id="jira-projet" class="c k"><rect x="1269" y="1390" width="109" height="48"/><use href="#t" x="1259" y="1400"/><use href="#t" x="1259" y="1420"/><text x="1327" y="1406">Jira Projet</text></g>
<g id="base-connaissance"><rect class="b" x="1163" y="1461" width="118" height="61"/><use href="#i" x="1264" y="1467"/><text x="1222" y="1477">Base de<tspan x="1222" dy="15">connaissance</tspan></text></g>
<g id="confluence" class="c k"><rect x="1269" y="1463" width="109" height="48"/><use href="#t" x="1259" y="1473"/><use href="#t" x="1259" y="1493"/><text x="1328" y="1479">Confluence</text></g>
<g id="usine-dev"><rect class="b" x="1427" y="1318" width="262" height="210"/><use href="#i" x="1672" y="1324"/><text x="1558" y="1334">Usine de dév</text></g>
<g id="gestion-dev"><rect class="b" x="1439" y="1366" width="141" height="55"/><use href="#i" x="1563" y="1372"/><text x="1510" y="1382">Gestion des<tspan x="1510" dy="15">développements</tspan></text></g>
<g id="bitbucket" class="c k"><rect x="1568" y="1370" width="74" height="48"/><use href="#t" x="1558" y="1380"/><use href="#t" x="1558" y="1400"/><text x="1609" y="1386">BitBucket</text></g>
<g id="integration"><rect class="b" x="1439" y="1427" width="143" height="37"/><use href="#i" x="1565" y="1433"/><text x="1510" y="1443">Intégration<tspan x="1510" dy="15">Continue</tspan></text></g>
<g id="deploiement"><rect class="b" x="1439" y="1474" width="143" height="37"/><use href="#i" x="1565" y="1480"/><text x="1510" y="1490">Déploiement</text></g>
<g id="bamboo" class="c k"><rect x="1568" y="1450" width="74" height="47"/><use href="#t" x="1558" y="1460"/><use href="#t" x="1558" y="1480"/><text x="1608" y="1466">Bamboo</text></g>

<g id="middleware"><rect class="b" x="1751" y="1281" width="479" height="263"/><use href="#i" x="2212" y="1287"/><text x="1990" y="1298">Middleware</text></g>
<g id="etl"><rect class="b" x="1763" y="1305" width="83" height="59"/><use href="#i" x="1828" y="1311"/><text x="1804" y="1321">ETL</text></g>
<g id="talend" class="c k"><rect x="1821" y="1318" width="73" height="47"/><use href="#t" x="1811" y="1328"/><use href="#t" x="1811" y="1348"/><text x="1862" y="1334">Talend</text></g>
<g id="ftp"><rect class="b" x="1919" y="1305" width="95" height="59"/><use href="#i" x="1996" y="1311"/><text x="1966" y="1321">FTP</text></g>
<g id="cft" class="c k"><rect x="2001" y="1317" width="74" height="48"/><use href="#t" x="1991" y="1327"/><use href="#t" x="1991" y="1347"/><text x="2041" y="1333">CFT<tspan x="2041" dy="15">(AXWAY)</tspan></text></g>
<g id="esb"><rect class="b pk" x="1772" y="1402" width="120" height="54"/><use href="#i" x="1874" y="1408"/><text x="1832" y="1418">ESB</text></g>

<g id="infrastructure"><rect class="b" x="323" y="1570" width="1979" height="108"/><use href="#i" x="2285" y="1576"/><text x="1312" y="1586">Infrastructure Management</text></g>
<g id="ticketing"><rect class="b" x="347" y="1594" width="131" height="71"/><use href="#i" x="460" y="1600"/><text x="412" y="1610">Ticketing infra</text></g>
<g id="itsm" class="c k"><rect x="429" y="1612" width="109" height="53"/><use href="#t" x="419" y="1622"/><use href="#t" x="419" y="1642"/><text x="486" y="1628">ITSM (Cible)</text></g>
<g id="securite"><rect class="b" x="575" y="1600" width="106" height="59"/><use href="#i" x="664" y="1606"/><text x="628" y="1616">securité IT</text></g>
<g id="supervision"><rect class="b" x="731" y="1600" width="119" height="65"/><use href="#i" x="832" y="1606"/><text x="790" y="1616">Supervision</text></g>
<g id="gestion-db"><rect class="b" x="935" y="1600" width="130" height="60"/><use href="#i" x="1048" y="1606"/><text x="1000" y="1616">Gestion DB</text></g>

<g id="zone-referentiels"><rect class="b" x="2350" y="178" width="312" height="1500"/><use href="#i" x="2645" y="184"/><text x="2506" y="194">Zone Réferentiels</text></g>
<g id="ref-utilisateurs"><rect class="b" x="2388" y="227" width="166" height="54"/><use href="#i" x="2537" y="233"/><text x="2470" y="243">Ref. Utilisateurs</text></g>
<g id="active-directory" class="c k"><rect x="2517" y="238" width="108" height="55"/><use href="#t" x="2507" y="248"/><use href="#t" x="2507" y="268"/><text x="2575" y="254">Active Directory</text></g>
<g id="ref-macro"><rect class="b" x="2386" y="299" width="168" height="59"/><use href="#i" x="2537" y="305"/><text x="2470" y="315">Réf. Macro-Habilitations</text></g>
<g id="ref-organisation"><rect class="b" x="2386" y="370" width="165" height="59"/><use href="#i" x="2534" y="376"/><text x="2462" y="386">Réf. Organisation</text></g>
<g id="agirh-2" class="c g"><rect x="2504" y="372" width="109" height="54"/><use href="#t" x="2494" y="382"/><use href="#t" x="2494" y="402"/><text x="2563" y="388">AGIRH (RH)</text></g>
<g id="ref-clients"><rect class="b" x="2386" y="442" width="168" height="145"/><use href="#i" x="2537" y="448"/><text x="2470" y="458">Réf. Clients</text></g>
<g id="base-tiers" class="c k"><rect x="2517" y="454" width="108" height="55"/><use href="#t" x="2507" y="464"/><use href="#t" x="2507" y="484"/><text x="2575" y="470">Base Tiers</text></g>
<g id="olympic-3" class="c k"><rect x="2517" y="514" width="108" height="55"/><use href="#t" x="2507" y="524"/><use href="#t" x="2507" y="544"/><text x="2573" y="530">OLYMPIC</text></g>
<g id="ref-contreparties"><rect class="b" x="2386" y="601" width="168" height="108"/><use href="#i" x="2537" y="607"/><text x="2470" y="617">Réf.Contreparties<tspan x="2470" dy="15">(fournisseurs, brocker,</tspan><tspan x="2470" dy="15">clearer, autres tiers)</tspan></text></g>
<g id="ktp-5" class="c k"><rect x="2517" y="654" width="108" height="55"/><use href="#t" x="2507" y="664"/><use href="#t" x="2507" y="684"/><text x="2574" y="670">KTP</text></g>
<g id="ref-contrats"><rect class="b" x="2386" y="718" width="168" height="60"/><use href="#i" x="2537" y="724"/><text x="2470" y="734">Réf. Contrats</text></g>
<g id="ref-titres-2"><rect class="b" x="2386" y="790" width="168" height="156"/><use href="#i" x="2537" y="796"/><text x="2470" y="806">Réf. Titres</text></g>
<g id="megara-2" class="c k"><rect x="2521" y="814" width="109" height="55"/><use href="#t" x="2511" y="824"/><use href="#t" x="2511" y="844"/><text x="2580" y="830">Megara</text></g>
<g id="maroclear-1" class="c r"><rect x="2522" y="886" width="108" height="49"/><use href="#t" x="2512" y="896"/><use href="#t" x="2512" y="916"/><text x="2580" y="902">Maroclear</text></g>
<g id="ref-donnees"><rect class="b" x="2388" y="958" width="168" height="397"/><use href="#i" x="2538" y="964"/><text x="2471" y="974">Réf. Données de marché</text></g>
<g id="bloomberg-dl" class="c o"><rect x="2511" y="994" width="97" height="48"/><use href="#t" x="2501" y="1004"/><use href="#t" x="2501" y="1024"/><text x="2563" y="1010">Bloomberg DL</text></g>
<g id="reuters-rmds" class="c o"><rect x="2511" y="1054" width="97" height="48"/><use href="#t" x="2501" y="1064"/><use href="#t" x="2501" y="1084"/><text x="2563" y="1070">Reuters RMDS</text></g>
<g id="reuters-dss" class="c o"><rect x="2511" y="1114" width="97" height="48"/><use href="#t" x="2501" y="1124"/><use href="#t" x="2501" y="1144"/><text x="2563" y="1130">Reuters DSS</text></g>
<g id="eikon" class="c o"><rect x="2511" y="1174" width="97" height="48"/><use href="#t" x="2501" y="1184"/><use href="#t" x="2501" y="1204"/><text x="2563" y="1190">Eikon</text></g>
<g id="site-bam" class="c o"><rect x="2511" y="1234" width="97" height="49"/><use href="#t" x="2501" y="1244"/><use href="#t" x="2501" y="1264"/><text x="2563" y="1250">Site BAM</text></g>
<g id="site-asfim" class="c o"><rect x="2511" y="1294" width="97" height="48"/><use href="#t" x="2501" y="1304"/><use href="#t" x="2501" y="1324"/><text x="2563" y="1310">Site ASFIM</text></g>
<g id="ref-annonces"><rect class="b" x="2388" y="1366" width="167" height="83"/><use href="#i" x="2538" y="1372"/><text x="2471" y="1382">Réf. Annonces OST</text></g>
<g id="maroclear-2" class="c d"><rect x="2505" y="1390" width="109" height="55"/><use href="#t" x="2495" y="1400"/><use href="#t" x="2495" y="1420"/><text x="2564" y="1406">Maroclear</text></g>
<g id="ref-operations"><rect class="b" x="2386" y="1486" width="168" height="60"/><use href="#i" x="2537" y="1492"/><text x="2470" y="1502">Réf. Opérations</text></g>
<g id="ref-nomenclature"><rect class="b" x="2388" y="1558" width="167" height="59"/><use href="#i" x="2538" y="1564"/><text x="2471" y="1574">Réf. Nomenclature</text></g>
</g>
</svg>
